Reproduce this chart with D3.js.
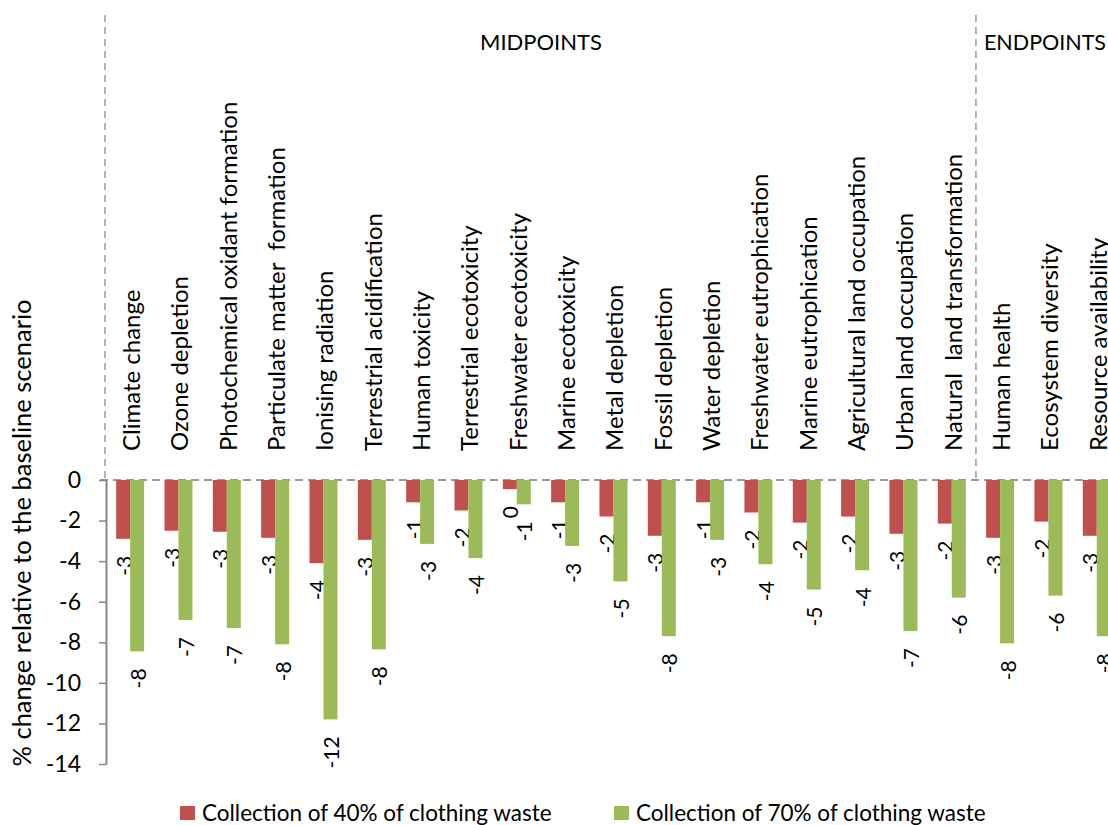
<!DOCTYPE html>
<html>
<head>
<meta charset="utf-8">
<script src="https://cdn.jsdelivr.net/npm/d3@7"></script>
<style>
  html, body { margin: 0; padding: 0; background: #fff; }
  svg { display: block; }
  text { font-family: Lato, "Noto Sans", sans-serif; fill: #000; }
</style>
</head>
<body>
<svg id="chart" width="1108" height="825"></svg>
<script>
const categories = [
  "Climate change", "Ozone depletion", "Photochemical oxidant formation",
  "Particulate matter  formation", "Ionising radiation", "Terrestrial acidification",
  "Human toxicity", "Terrestrial ecotoxicity", "Freshwater ecotoxicity",
  "Marine ecotoxicity", "Metal depletion", "Fossil depletion", "Water depletion",
  "Freshwater eutrophication", "Marine eutrophication", "Agricultural land occupation",
  "Urban land occupation", "Natural  land transformation", "Human health",
  "Ecosystem diversity", "Resource availability"
];
const seriesNames = ["Collection of 40% of clothing waste", "Collection of 70% of clothing waste"];
const collection40 = [-2.9, -2.5, -2.55, -2.85, -4.1, -2.95, -1.1, -1.5, -0.45, -1.1, -1.8,
                      -2.75, -1.1, -1.6, -2.1, -1.8, -2.65, -2.15, -2.85, -2.05, -2.75];
const collection70 = [-8.45, -6.9, -7.3, -8.1, -11.8, -8.35, -3.15, -3.85, -1.2, -3.25, -5.0,
                      -7.7, -2.95, -4.15, -5.4, -4.45, -7.45, -5.8, -8.05, -5.7, -7.7];
const yTicks = [0, -2, -4, -6, -8, -10, -12, -14];
const groupLabels = ["MIDPOINTS", "ENDPOINTS"];
const midpointCount = 18;
const colors = ["#C0504D", "#9BBB59"];

const svg = d3.select("#chart");
const left = 106, bandW = 48.33;
const x = d3.scaleBand().domain(categories).range([left, left + bandW * categories.length]).padding(0);
const y = d3.scaleLinear().domain([-14, 0]).range([764, 480]);
const barW = 14;

const fmt = v => { const r = Math.sign(v) * Math.round(Math.abs(v)); return r === 0 ? "0" : String(r); };

// dashed reference lines
const dashCol = "#9a9a9a";
svg.append("line").attr("x1", 100).attr("x2", 1108).attr("y1", y(0)).attr("y2", y(0))
  .attr("stroke", dashCol).attr("stroke-width", 2).attr("stroke-dasharray", "8,5");
svg.append("line").attr("x1", left - 1).attr("x2", left - 1).attr("y1", 15).attr("y2", y(0))
  .attr("stroke", dashCol).attr("stroke-width", 1.5).attr("stroke-dasharray", "7,5");
const sepX = x(categories[midpointCount]);
svg.append("line").attr("x1", sepX).attr("x2", sepX).attr("y1", 15).attr("y2", y(0))
  .attr("stroke", dashCol).attr("stroke-width", 1.5).attr("stroke-dasharray", "7,5");

// group labels
svg.append("text").attr("x", (left + sepX) / 2).attr("y", 50).attr("text-anchor", "middle")
  .style("font-size", "22px").text(groupLabels[0]);
svg.append("text").attr("x", 1106).attr("y", 50).attr("text-anchor", "end")
  .style("font-size", "21.5px").text(groupLabels[1]);

// y axis
const yAxis = d3.axisLeft(y).tickValues(yTicks).tickSize(7).tickSizeOuter(0).tickPadding(18)
  .tickFormat(d => String(d));
const ga = svg.append("g").attr("transform", `translate(${left},0)`).call(yAxis);
ga.select(".domain").attr("stroke", "#868686").attr("stroke-width", 2);
ga.selectAll(".tick line").attr("stroke", "#868686").attr("stroke-width", 1.5);
ga.selectAll(".tick text").style("font-size", "23px").style("font-family", "Lato, sans-serif").attr("fill", "#000");

// y title
svg.append("text").attr("transform", "translate(31,533) rotate(-90)").attr("text-anchor", "middle")
  .style("font-size", "25.5px").text("% change relative to the baseline scenario");

// category labels
svg.append("g").selectAll("text").data(categories).join("text")
  .attr("transform", d => `translate(${x(d) + x.bandwidth() / 2 + 10},451) rotate(-90)`)
  .attr("text-anchor", "start").style("font-size", "24px").style("white-space", "pre")
  .text(d => d);

// bars
const series = [collection40, collection70];
series.forEach((vals, si) => {
  const g = svg.append("g");
  g.selectAll("rect").data(vals).join("rect")
    .attr("x", (d, i) => x(categories[i]) + x.bandwidth() / 2 - barW + si * barW)
    .attr("y", y(0))
    .attr("width", barW)
    .attr("height", d => y(d) - y(0))
    .attr("fill", colors[si]);
  g.selectAll("text").data(vals).join("text")
    .attr("transform", (d, i) => `translate(${x(categories[i]) + x.bandwidth() / 2 - barW / 2 + si * barW},${y(d) + 17}) rotate(-90)`)
    .attr("text-anchor", "end").attr("dominant-baseline", "central")
    .style("font-size", "21px").text(d => fmt(d));
});

// legend
const legendX = [180, 614];
series.forEach((vals, si) => {
  svg.append("rect").attr("x", legendX[si]).attr("y", 806).attr("width", 15).attr("height", 14).attr("fill", colors[si]);
  svg.append("text").attr("x", legendX[si] + 22).attr("y", 821).style("font-size", "22.5px").text(seriesNames[si]);
});
</script>
</body>
</html>
